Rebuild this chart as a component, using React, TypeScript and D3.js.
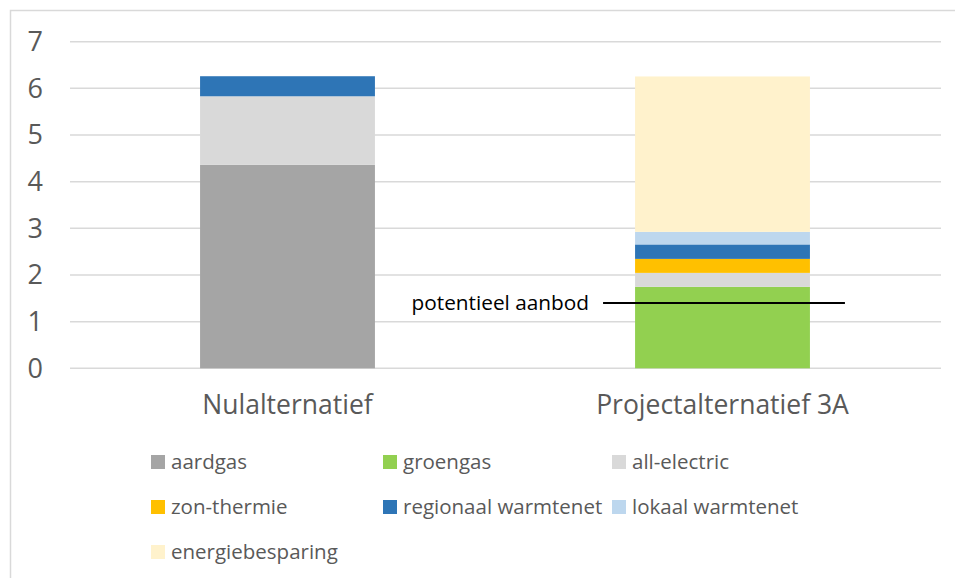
import React from "react";
import * as d3 from "d3";

const categories = ["Nulalternatief", "Projectalternatief 3A"];
const seriesNames = [
  "aardgas",
  "groengas",
  "all-electric",
  "zon-thermie",
  "regionaal warmtenet",
  "lokaal warmtenet",
  "energiebesparing",
];
const aardgas = [4.36, 0];
const groengas = [0, 1.745];
const allElectric = [1.47, 0.3];
const zonThermie = [0, 0.3];
const regionaalWarmtenet = [0.43, 0.31];
const lokaalWarmtenet = [0, 0.27];
const energiebesparing = [0, 3.33];
const seriesColors = ["#a5a5a5", "#92d050", "#d9d9d9", "#ffc000", "#2e75b6", "#bdd7ee", "#fff2cc"];
const yTicks = [0, 1, 2, 3, 4, 5, 6, 7];
const potentieelAanbod = 1.4;
const potentieelLabel = "potentieel aanbod";

const W = 955;
const H = 578;
const FONT = "'Open Sans', 'DejaVu Sans', sans-serif";
const TEXT = "#595959";

export default function App() {
  const seriesValues = [aardgas, groengas, allElectric, zonThermie, regionaalWarmtenet, lokaalWarmtenet, energiebesparing];
  const table = categories.map((c, i) => {
    const row: any = { category: c };
    seriesNames.forEach((s, j) => (row[s] = seriesValues[j][i]));
    return row;
  });
  const stacked = d3.stack().keys(seriesNames)(table);

  const x = d3.scaleBand().domain(categories).range([70, 940]).paddingInner(0.598).paddingOuter(0.299);
  const y = d3.scaleLinear().domain([0, 7]).range([368.3, 41.7]);

  const bw = x.bandwidth();
  const lineCat = categories[1];
  const lx1 = (x(lineCat) as number) - 32;
  const lx2 = (x(lineCat) as number) + bw + 35;
  const ly = y(potentieelAanbod);

  const legendCols = [151, 383, 612];
  const legendRows = [462, 507, 552];

  return (
    <svg width={W} height={H} style={{ position: "absolute", left: 0, top: 0, background: "#fff" }}>
      <rect x={10.5} y={10.5} width={W + 20} height={H + 20} fill="#fff" stroke="#d9d9d9" strokeWidth={1.5} />
      {yTicks.map((t) => (
        <g key={t}>
          <line x1={70} x2={941} y1={y(t)} y2={y(t)} stroke="#d9d9d9" strokeWidth={1.5} />
          <text x={43} y={y(t)} dy="0.35em" textAnchor="end" fontFamily={FONT} fontSize={27} fill={TEXT}>
            {t}
          </text>
        </g>
      ))}
      {stacked.map((s, j) => (
        <g key={s.key} fill={seriesColors[j]}>
          {s.map((d, i) =>
            d[1] - d[0] > 0 ? (
              <rect
                key={i}
                x={x(categories[i]) as number}
                width={bw}
                y={y(d[1])}
                height={y(d[0]) - y(d[1])}
              />
            ) : null
          )}
        </g>
      ))}
      <line x1={lx1} x2={lx2} y1={ly} y2={ly} stroke="#000" strokeWidth={2} />
      <text x={lx1 - 14} y={ly} dy="0.35em" textAnchor="end" fontFamily={FONT} fontSize={20.8} fill="#000">
        {potentieelLabel}
      </text>
      {categories.map((c) => (
        <text
          key={c}
          x={(x(c) as number) + bw / 2}
          y={414}
          textAnchor="middle"
          fontFamily={FONT}
          fontSize={26.5}
          fill={TEXT}
        >
          {c}
        </text>
      ))}
      {seriesNames.map((s, j) => {
        const cx = legendCols[j % 3];
        const cy = legendRows[Math.floor(j / 3)];
        return (
          <g key={s}>
            <rect x={cx} y={cy - 7} width={14} height={14} fill={seriesColors[j]} />
            <text x={cx + 20} y={cy} dy="0.35em" fontFamily={FONT} fontSize={20.5} fill={TEXT}>
              {s}
            </text>
          </g>
        );
      })}
    </svg>
  );
}
